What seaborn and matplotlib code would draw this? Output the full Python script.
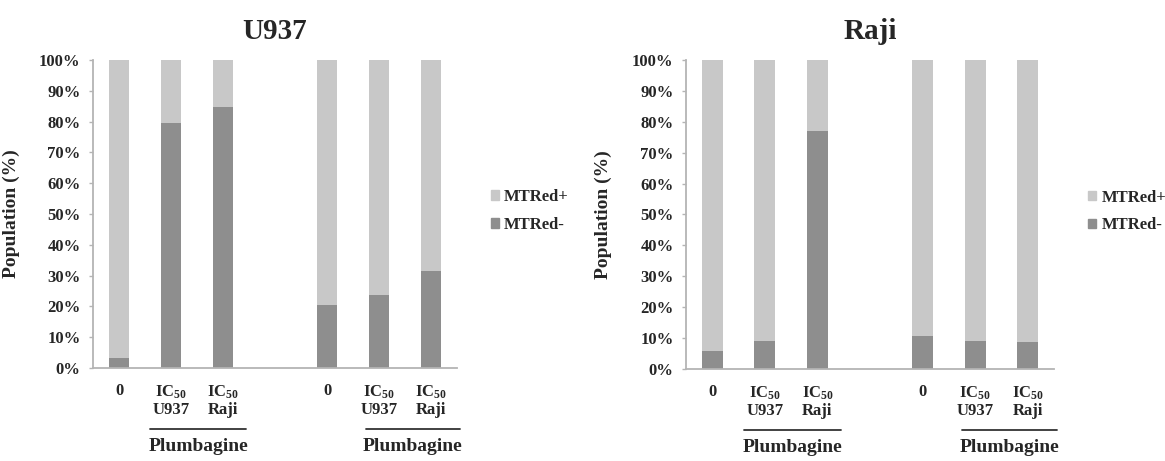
import numpy as np
import pandas as pd
import seaborn as sns
import matplotlib.pyplot as plt
from matplotlib.patches import Patch
from matplotlib.ticker import FixedLocator

# -------------------------
# data
# -------------------------
slot_keys = ["a_0", "a_u937", "a_raji", "gap", "b_0", "b_u937", "b_raji"]
tick_labels = ["0", "IC$_{50}$\nU937", "IC$_{50}$\nRaji", "",
               "0", "IC$_{50}$\nU937", "IC$_{50}$\nRaji"]
bar_keys = ["a_0", "a_u937", "a_raji", "b_0", "b_u937", "b_raji"]

u937_neg = [3.4, 79.6, 84.6, 20.4, 23.6, 31.5]
raji_neg = [5.9, 9.2, 77.1, 10.8, 9.2, 8.6]

panel_titles = ["U937", "Raji"]
series_names = ["MTRed+", "MTRed-"]
group_label = "Plumbagine"

col_pos = "#c8c8c8"
col_neg = "#8e8e8e"
spine_col = "#b4b4b4"

sns.set_theme(style="white")
plt.rcParams["font.family"] = ["Liberation Serif", "DejaVu Serif"]
plt.rcParams["font.weight"] = "bold"
plt.rcParams["mathtext.fontset"] = "custom"
plt.rcParams["mathtext.rm"] = "Liberation Serif:bold"
plt.rcParams["mathtext.bf"] = "Liberation Serif:bold"
plt.rcParams["mathtext.it"] = "Liberation Serif:bold:italic"


def make_frame(neg):
    df = pd.DataFrame({"slot": bar_keys, "neg": neg})
    df["pos"] = 100 - df["neg"]
    df["total"] = df["neg"] + df["pos"]
    return df


def draw_panel(ax, df, title):
    sns.barplot(data=df, x="slot", y="total", order=slot_keys, color=col_pos,
                width=0.4, saturation=1, ax=ax, linewidth=0)
    sns.barplot(data=df, x="slot", y="neg", order=slot_keys, color=col_neg,
                width=0.4, saturation=1, ax=ax, linewidth=0)
    ax.set_xlim(-0.5, 6.5)
    ax.set_ylim(0, 100)
    ax.set_yticks(np.arange(0, 101, 10))
    ax.set_yticklabels([f"{v}%" for v in range(0, 101, 10)], fontsize=12, fontweight="bold")
    ax.set_xticks(range(len(slot_keys)))
    ax.set_xticklabels(tick_labels, fontsize=12, fontweight="bold", linespacing=1.1)
    ax.xaxis.set_minor_locator(FixedLocator(np.arange(-0.5, 7, 1)))
    ax.tick_params(axis="x", which="major", length=0, pad=11)
    ax.tick_params(axis="x", which="minor", length=3, width=1, color=spine_col, direction="out")
    ax.tick_params(axis="y", length=3, width=1, color=spine_col, direction="out", pad=6, left=True)
    ax.set_xlabel("")
    ax.set_ylabel("Population (%)", fontsize=14, fontweight="bold")
    ax.yaxis.set_label_coords(-0.2, 0.5)
    ax.set_title(title, fontsize=21, fontweight="bold", pad=15)
    for s in ["top", "right"]:
        ax.spines[s].set_visible(False)
    for s in ["left", "bottom"]:
        ax.spines[s].set_color(spine_col)
        ax.spines[s].set_linewidth(1.3)

    # group brackets under the IC50 bars
    tr = ax.get_xaxis_transform()
    for x0, x1 in [(0.6, 2.45), (4.75, 6.55)]:
        ax.plot([x0, x1], [-0.198, -0.198], transform=tr, color="#333333",
                lw=1.3, clip_on=False)
        ax.text((x0 + x1) / 2, -0.228, group_label, transform=tr, ha="center",
                va="top", fontsize=14, fontweight="bold")

    handles = [Patch(color=col_pos), Patch(color=col_neg)]
    ax.legend(handles, series_names, loc="center left", bbox_to_anchor=(1.07, 0.51),
              frameon=False, fontsize=12, handlelength=0.5, handleheight=0.5,
              handletextpad=0.3, labelspacing=0.7, borderpad=0)


fig = plt.figure(figsize=(11.65, 4.61), dpi=100)
ax1 = fig.add_axes([93 / 1165, 93 / 461, 364 / 1165, 308 / 461])
ax2 = fig.add_axes([686 / 1165, 92 / 461, 368 / 1165, 309 / 461])

draw_panel(ax1, make_frame(u937_neg), panel_titles[0])
draw_panel(ax2, make_frame(raji_neg), panel_titles[1])

fig.savefig("out.png", dpi=100)
